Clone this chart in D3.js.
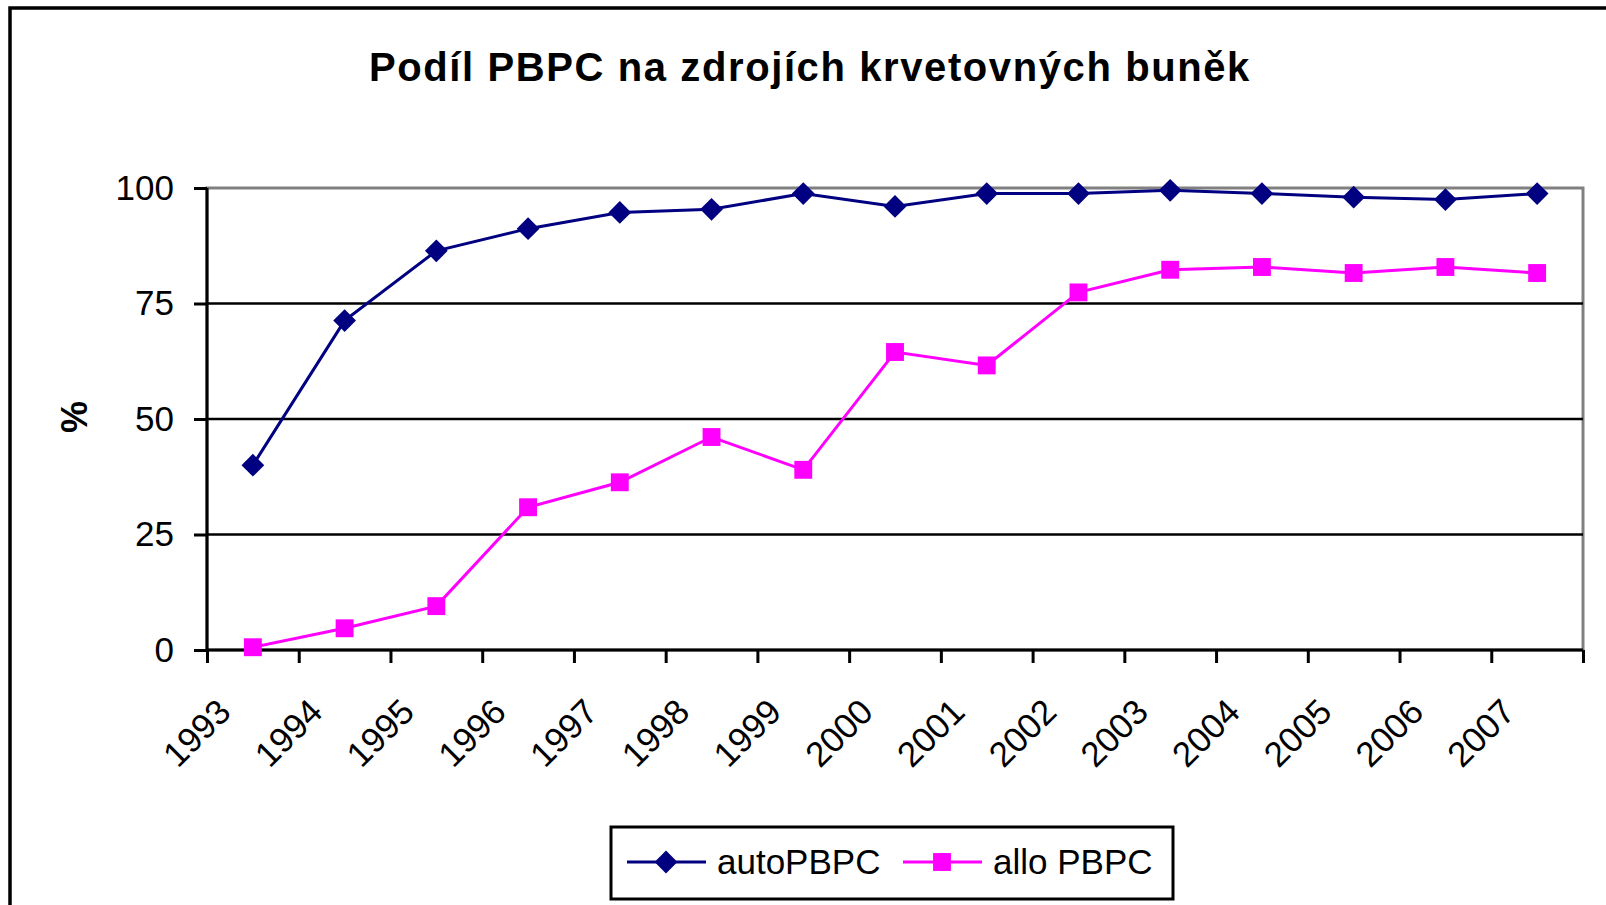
<!DOCTYPE html>
<html lang="cs">
  <head>
    <meta charset="UTF-8" />
    <title>Podíl PBPC na zdrojích krvetovných buněk</title>
    <script src="https://d3js.org/d3.v7.min.js"></script>
    <style>
      body {
        margin: 0;
        background: #fff;
        font-family: Arial, "Liberation Sans", sans-serif;
      }
    </style>
  </head>
  <body>
    <div id="chart"></div>
    <script>
      // data
      const years = ["1993", "1994", "1995", "1996", "1997", "1998", "1999", "2000",
        "2001", "2002", "2003", "2004", "2005", "2006", "2007"];
      const autoPBPC = [40, 71.3, 86.4, 91.2, 94.7, 95.4, 98.8, 96.0,
        98.8, 98.8, 99.5, 98.8, 98.0, 97.5, 98.8];
      const alloPBPC = [0.6, 4.7, 9.5, 30.9, 36.3, 46.1, 39.0, 64.5,
        61.6, 77.4, 82.3, 82.9, 81.6, 82.9, 81.6];
      const yTicks = [0, 25, 50, 75, 100];
      const seriesNames = ["autoPBPC", "allo PBPC"];

      const width = 1606;
      const height = 905;
      const plot = { left: 207, right: 1583, top: 188, bottom: 650 };

      const svg = d3
        .select("#chart")
        .append("svg")
        .attr("width", width)
        .attr("height", height);

      // outer chart frame (runs off the right and bottom edge like the original)
      svg
        .append("rect")
        .attr("x", 10)
        .attr("y", 8)
        .attr("width", width + 20)
        .attr("height", height + 20)
        .attr("fill", "#fff")
        .attr("stroke", "#000")
        .attr("stroke-width", 3.5);

      svg
        .append("text")
        .attr("x", 810)
        .attr("y", 81)
        .attr("text-anchor", "middle")
        .style("font-size", "40px")
        .style("letter-spacing", "1.6px")
        .style("font-weight", "bold")
        .text("Podíl PBPC na zdrojích krvetovných buněk");

      // category boundaries 0..15, points sit in the middle of each slot
      const x = d3
        .scaleLinear()
        .domain([0, years.length])
        .range([plot.left, plot.right]);
      const y = d3
        .scaleLinear()
        .domain([0, 100])
        .range([plot.bottom, plot.top]);

      // plot area border (grey) and gridlines
      svg
        .append("rect")
        .attr("x", plot.left)
        .attr("y", plot.top)
        .attr("width", plot.right - plot.left)
        .attr("height", plot.bottom - plot.top)
        .attr("fill", "none")
        .attr("stroke", "#808080")
        .attr("stroke-width", 3);

      svg
        .append("g")
        .selectAll("line")
        .data(yTicks.filter((d) => d > 0 && d < 100))
        .join("line")
        .attr("x1", plot.left)
        .attr("x2", plot.right)
        .attr("y1", (d) => y(d))
        .attr("y2", (d) => y(d))
        .attr("stroke", "#000")
        .attr("stroke-width", 2.5);

      const yAxis = svg
        .append("g")
        .attr("transform", `translate(${plot.left},0)`)
        .call(d3.axisLeft(y).tickValues(yTicks).tickSize(13).tickPadding(20));
      yAxis.select(".domain").attr("stroke-width", 3).attr("d", `M0,${plot.top}V${plot.bottom}`);
      yAxis.selectAll(".tick line").attr("stroke-width", 3);
      yAxis
        .selectAll(".tick text")
        .style("font-size", "35px")
        .style("font-family", "Arial, 'Liberation Sans', sans-serif")
        .attr("fill", "#000");

      const xAxis = svg
        .append("g")
        .attr("transform", `translate(0,${plot.bottom})`)
        .call(
          d3
            .axisBottom(x)
            .tickValues(d3.range(years.length + 1))
            .tickSize(13)
            .tickFormat("")
        );
      xAxis.select(".domain").attr("stroke-width", 3).attr("d", `M${plot.left},0H${plot.right}`);
      xAxis.selectAll(".tick line").attr("stroke-width", 3);

      svg
        .append("g")
        .selectAll("text")
        .data(years)
        .join("text")
        .attr("transform", (d, i) => `translate(${x(i + 0.5) - 20},714) rotate(-45)`)
        .attr("text-anchor", "end")
        .style("font-size", "35px")
        .text((d) => d);

      svg
        .append("text")
        .attr("transform", "translate(87,417) rotate(-90)")
        .attr("text-anchor", "middle")
        .style("font-size", "36px")
        .style("font-weight", "bold")
        .text("%");

      const series = [
        { name: seriesNames[0], values: autoPBPC, color: "#000080", symbol: d3.symbolDiamond2, size: 330 },
        { name: seriesNames[1], values: alloPBPC, color: "#ff00ff", symbol: d3.symbolSquare, size: 320 },
      ];

      const line = d3
        .line()
        .x((d, i) => x(i + 0.5))
        .y((d) => y(d));

      // draw allo first so navy sits on top like in the original
      series
        .slice()
        .reverse()
        .forEach((s) => {
          svg
            .append("path")
            .datum(s.values)
            .attr("fill", "none")
            .attr("stroke", s.color)
            .attr("stroke-width", 3)
            .attr("d", line);

          svg
            .append("g")
            .selectAll("path")
            .data(s.values)
            .join("path")
            .attr("transform", (d, i) => `translate(${x(i + 0.5)},${y(d)})`)
            .attr("d", d3.symbol(s.symbol, s.size))
            .attr("fill", s.color);
        });

      // legend
      const legend = svg.append("g");
      legend
        .append("rect")
        .attr("x", 611)
        .attr("y", 827)
        .attr("width", 562)
        .attr("height", 72)
        .attr("fill", "#fff")
        .attr("stroke", "#000")
        .attr("stroke-width", 3);

      const legendX = [627, 903];
      const item = legend
        .selectAll("g")
        .data(series)
        .join("g")
        .attr("transform", (d, i) => `translate(${legendX[i]},862)`);
      item
        .append("line")
        .attr("x1", 0)
        .attr("x2", 79)
        .attr("stroke", (d) => d.color)
        .attr("stroke-width", 3);
      item
        .append("path")
        .attr("transform", "translate(39,0)")
        .attr("d", (d) => d3.symbol(d.symbol, d.size)())
        .attr("fill", (d) => d.color);
      item
        .append("text")
        .attr("x", 90)
        .attr("y", 12)
        .style("font-size", "35px")
        .text((d) => d.name);
    </script>
  </body>
</html>
